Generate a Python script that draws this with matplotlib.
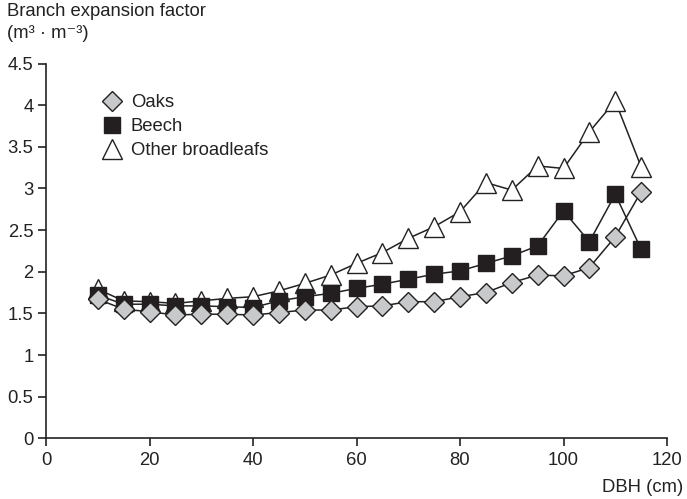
import matplotlib
matplotlib.use("Agg")
import matplotlib.pyplot as plt
from matplotlib.lines import Line2D

plt.rcParams['font.family'] = ['Liberation Sans', 'DejaVu Sans']

dbh = [10, 15, 20, 25, 30, 35, 40, 45, 50, 55, 60, 65, 70, 75, 80, 85, 90, 95, 100, 105, 110, 115]
oaks = [1.67, 1.55, 1.52, 1.48, 1.49, 1.49, 1.48, 1.51, 1.54, 1.54, 1.58, 1.59, 1.64, 1.64, 1.70, 1.75, 1.87, 1.96, 1.95, 2.05, 2.42, 2.96]
beech = [1.72, 1.61, 1.61, 1.59, 1.59, 1.58, 1.57, 1.65, 1.70, 1.74, 1.80, 1.85, 1.91, 1.97, 2.01, 2.10, 2.19, 2.31, 2.73, 2.36, 2.93, 2.27]
other = [1.79, 1.65, 1.64, 1.62, 1.65, 1.68, 1.70, 1.77, 1.86, 1.96, 2.10, 2.23, 2.40, 2.54, 2.72, 3.07, 2.98, 3.27, 3.24, 3.68, 4.05, 3.26]
labels = ["Oaks", "Beech", "Other broadleafs"]
yticks = [0, 0.5, 1, 1.5, 2, 2.5, 3, 3.5, 4, 4.5]
ytick_labels = ["0", "0.5", "1", "1.5", "2", "2.5", "3", "3.5", "4", "4.5"]
xticks = [0, 20, 40, 60, 80, 100, 120]

FS = 13.3
fig = plt.figure(figsize=(6.87, 4.99), dpi=100)
ax = fig.add_axes([46/687, 1-438.3/499, (667-46)/687, (438.3-63.5)/499])

ax.plot(dbh, other, color='#222222', lw=1.1, marker='^', ms=14, mfc='white', mec='#222222', mew=1.0, zorder=3)
ax.plot(dbh, beech, color='#222222', lw=1.1, marker='s', ms=12, mfc='#231f20', mec='#231f20', mew=1.0, zorder=4)
ax.plot(dbh, oaks, color='#222222', lw=1.1, marker='D', ms=10, mfc='#c8c9cb', mec='#222222', mew=1.0, zorder=5)

ax.set_xlim(0, 120)
ax.set_ylim(0, 4.5)
ax.set_yticks(yticks)
ax.set_yticklabels(ytick_labels)
ax.set_xticks(xticks)
for s in ['top', 'right']:
    ax.spines[s].set_visible(False)
for s in ['left', 'bottom']:
    ax.spines[s].set_linewidth(1.2)
    ax.spines[s].set_color('#222222')
ax.tick_params(axis='both', direction='out', length=6, width=1.2, colors='#222222', labelsize=FS, labelcolor='#222222')
ax.tick_params(axis='y', pad=3)
ax.tick_params(axis='x', pad=4)

fig.text(7/687, 1-12/499, "Branch expansion factor", fontsize=FS, color='#222222', va='center', ha='left')
fig.text(7/687, 1-34/499, "(m³ · m⁻³)", fontsize=FS, color='#222222', va='center', ha='left')
fig.text(683/687, 1-487/499, "DBH (cm)", fontsize=FS, color='#222222', va='center', ha='right')

handles = [
    Line2D([], [], ls='none', marker='D', ms=10, mfc='#c8c9cb', mec='#222222', mew=1.0),
    Line2D([], [], ls='none', marker='s', ms=12, mfc='#231f20', mec='#231f20'),
    Line2D([], [], ls='none', marker='^', ms=14, mfc='white', mec='#222222', mew=1.0),
]
ax.legend(handles, labels, loc='upper left', bbox_to_anchor=(0.061, 0.963), frameon=False,
          fontsize=FS, handletextpad=0.45, labelspacing=0.38, handlelength=1.2, labelcolor='#222222')

fig.savefig("out.png", dpi=100)
